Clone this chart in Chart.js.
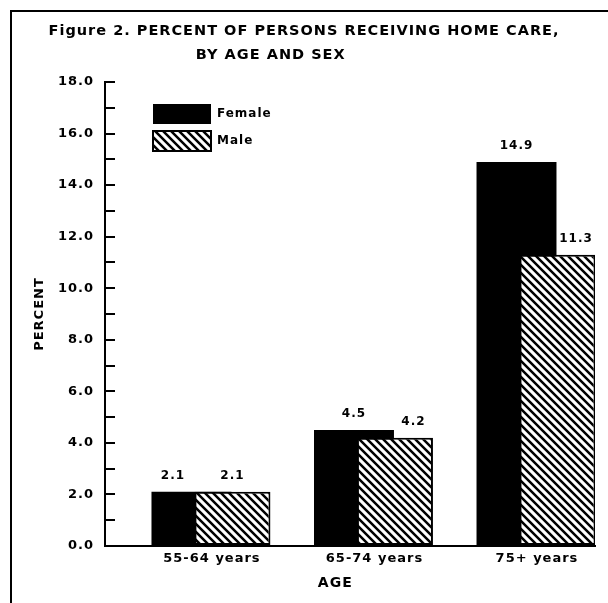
<!DOCTYPE html>
<html>
<head>
<meta charset="utf-8">
<script src="https://cdn.jsdelivr.net/npm/chart.js@4/dist/chart.umd.min.js"></script>
<style>
  html, body { margin: 0; padding: 0; background: #fff; }
  #wrap { position: relative; width: 608px; height: 603px; overflow: hidden; }
  #frame { position: absolute; left: 10px; top: 10px; width: 640px; height: 640px;
           border-top: 2px solid #000; border-left: 2px solid #000; box-sizing: border-box; }
  #c { position: absolute; left: 0; top: 0; }
</style>
</head>
<body>
<div id="wrap">
  <div id="frame"></div>
  <canvas id="c" width="608" height="603"></canvas>
</div>
<script>
// ---- data ----
const categories = ['55-64 years', '65-74 years', '75+ years'];
const seriesNames = ['Female', 'Male'];
const femaleValues = [2.1, 4.5, 14.9];
const maleValues = [2.1, 4.2, 11.3];
const yTickLabels = ['0.0', '2.0', '4.0', '6.0', '8.0', '10.0', '12.0', '14.0', '16.0', '18.0'];
const titleLines = ['Figure 2. PERCENT OF PERSONS RECEIVING HOME CARE,', 'BY AGE AND SEX'];
const xTitle = 'AGE';
const yTitle = 'PERCENT';

// ---- layout constants (axis ranges, not data) ----
const X_MIN = -0.658, X_MAX = 2.357;   // visible category axis range
const PAIR_SHIFT = 0.126;              // half distance between the overlapping bars

const FONT = "'DejaVu Sans', sans-serif";
Chart.defaults.font.family = FONT;
Chart.defaults.font.weight = 'bold';
Chart.defaults.color = '#000';

const canvas = document.getElementById('c');
const ctx0 = canvas.getContext('2d');

function makeHatch() {
  const s = 8;
  const c = document.createElement('canvas');
  c.width = s; c.height = s;
  const g = c.getContext('2d');
  g.fillStyle = '#fff';
  g.fillRect(0, 0, s, s);
  g.strokeStyle = '#000';
  g.lineWidth = 2.5;
  g.beginPath();
  g.moveTo(-2, -2); g.lineTo(s + 2, s + 2);
  g.moveTo(-2, s - 2); g.lineTo(2, s + 2);
  g.moveTo(s - 2, -2); g.lineTo(s + 2, 2);
  g.stroke();
  return ctx0.createPattern(c, 'repeat');
}
const hatch = makeHatch();

const toPoints = arr => arr.map((v, i) => ({ x: i, y: v }));
const intTicks = s => { s.ticks = s.ticks.filter(t => Number.isInteger(t.value) && t.value >= 0 && t.value < categories.length); };

const spacingPlugin = {
  id: 'spacing',
  beforeUpdate(chart) { chart.ctx.letterSpacing = '1px'; },
  beforeDraw(chart) { chart.ctx.letterSpacing = '1px'; }
};

const legendPlacer = {
  id: 'legendPlacer',
  afterLayout(chart) {
    const lg = chart.legend, ca = chart.chartArea;
    if (!lg || !ca) return;
    const w = lg.width;
    lg.left = ca.left + 41; lg.right = lg.left + w;
    lg.top = ca.top + 15; lg.bottom = lg.top + 300;
  }
};

// value labels centred over the visible part of each bar's top edge
const valueLabels = {
  id: 'valueLabels',
  afterDatasetsDraw(chart) {
    const ctx = chart.ctx;
    ctx.save();
    ctx.font = 'bold 12px ' + FONT;
    ctx.fillStyle = '#000';
    ctx.textAlign = 'center';
    ctx.textBaseline = 'middle';
    const fMeta = chart.getDatasetMeta(0).data;
    const mMeta = chart.getDatasetMeta(1).data;
    const ds = chart.data.datasets;
    categories.forEach((c, i) => {
      const F = fMeta[i], M = mMeta[i];
      const fl = F.x - F.width / 2, fr = F.x + F.width / 2;
      const ml = M.x - M.width / 2, mr = M.x + M.width / 2;
      let fx, mx;
      if (F.y < M.y - 0.5) { fx = F.x; mx = (fr + mr) / 2; }
      else { fx = (fl + ml) / 2; mx = M.x; }
      ctx.fillText(ds[0].data[i].y.toFixed(1), fx, F.y - 16);
      ctx.fillText(ds[1].data[i].y.toFixed(1), mx, M.y - 16);
    });
    ctx.restore();
  }
};

const hiddenX = (min, max) => ({
  type: 'linear', display: false, min, max, offset: false,
  afterBuildTicks: intTicks, ticks: { stepSize: 1 }
});

new Chart(canvas, {
  type: 'bar',
  data: {
    datasets: [
      { label: seriesNames[0], data: toPoints(femaleValues), xAxisID: 'xF', order: 1,
        grouped: false, backgroundColor: '#000', borderWidth: 0,
        barPercentage: 0.492, categoryPercentage: 1 },
      { label: seriesNames[1], data: toPoints(maleValues), xAxisID: 'xM', order: 0,
        grouped: false, backgroundColor: hatch, borderColor: '#000', borderWidth: 2,
        borderSkipped: false, barPercentage: 0.468, categoryPercentage: 1 }
    ]
  },
  options: {
    responsive: false,
    animation: false,
    devicePixelRatio: 1,
    layout: { padding: { left: 0, right: 0, top: 0, bottom: 11.6 } },
    plugins: {
      tooltip: { enabled: false },
      title: {
        display: true,
        text: [titleLines[0], titleLines[1] + '           '],
        color: '#000',
        font: { size: 14.5, weight: 'bold', family: FONT, lineHeight: 24 / 14.5 },
        padding: { top: 19, bottom: 15 }
      },
      legend: {
        display: true,
        position: 'chartArea',
        align: 'start',
        labels: {
          boxWidth: 58, boxHeight: 20, padding: 7, color: '#000',
          font: { size: 12, weight: 'bold', family: FONT },
          sort: (a, b) => a.datasetIndex - b.datasetIndex
        }
      }
    },
    scales: {
      x: {
        type: 'linear',
        position: 'bottom',
        min: X_MIN,
        max: X_MAX,
        offset: false,
        afterBuildTicks: intTicks,
        grid: { display: false, drawTicks: false },
        border: { display: true, color: '#000', width: 2 },
        ticks: {
          stepSize: 1, autoSkip: false, maxRotation: 0, padding: 5, color: '#000',
          font: { size: 13, weight: 'bold' },
          callback: v => categories[v]
        },
        title: {
          display: true, text: xTitle + '     ', color: '#000',
          font: { size: 14, weight: 'bold' },
          padding: { top: 3, bottom: 0 }
        }
      },
      xF: hiddenX(X_MIN + PAIR_SHIFT, X_MAX + PAIR_SHIFT),
      xM: hiddenX(X_MIN - PAIR_SHIFT, X_MAX - PAIR_SHIFT),
      y: {
        min: 0,
        max: 18,
        afterFit: s => { s.width = 105; },
        grid: { display: true, drawOnChartArea: false, drawTicks: true, tickLength: -10,
                color: '#000', lineWidth: 2, tickWidth: 2, tickColor: '#000' },
        border: { display: true, color: '#000', width: 2 },
        ticks: {
          stepSize: 1, autoSkip: false, padding: 21, color: '#000',
          font: { size: 13, weight: 'bold' },
          callback: v => (v % 2 === 0 ? yTickLabels[v / 2] : '')
        },
        title: {
          display: true, text: yTitle, color: '#000',
          font: { size: 13, weight: 'bold' },
          padding: { top: 32, bottom: 0 }
        }
      },
      yR: {
        type: 'linear', position: 'right', min: 0, max: 18,
        afterFit: s => { s.width = 13; },
        grid: { display: false, drawTicks: false },
        border: { display: false },
        ticks: { display: false }
      }
    }
  },
  plugins: [spacingPlugin, legendPlacer, valueLabels]
});
</script>
</body>
</html>
